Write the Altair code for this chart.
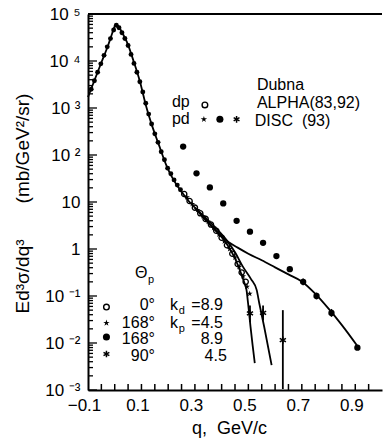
import altair as alt
import pandas as pd

# ---------------- curves (q in GeV/c, E d3sigma/dq3 in mb/GeV^2/sr) ----------------
main_q = [-0.100, -0.075, -0.050, -0.025, -0.010, 0.000, 0.007, 0.015, 0.030, 0.045,
          0.070, 0.095, 0.117, 0.140, 0.165, 0.194, 0.220, 0.250, 0.280, 0.300]
main_v = [1700, 4.0e3, 9.3e3, 2.14e4, 3.8e4, 5.5e4, 5.9e4, 5.4e4, 3.8e4, 2.57e4,
          1.02e4, 3.55e3, 1.12e3, 417, 166, 58.9, 29.5, 16.6, 10.0, 7.6]

curveB_q = [0.30, 0.34, 0.38, 0.42, 0.46, 0.50, 0.55, 0.60, 0.65, 0.70, 0.75, 0.80, 0.85, 0.91]
curveB_v = [7.6, 4.17, 2.40, 1.48, 1.07, 0.794, 0.575, 0.407, 0.288, 0.204, 0.112, 0.0537, 0.0240, 0.00832]

curveC_q = [0.30, 0.34, 0.38, 0.42, 0.45, 0.47, 0.485, 0.493, 0.499, 0.508, 0.516, 0.524]
curveC_v = [7.6, 4.17, 2.40, 1.26, 0.631, 0.331, 0.191, 0.135, 0.0692, 0.0224, 0.00891, 0.00372]

curveD_q = [0.30, 0.34, 0.38, 0.42, 0.45, 0.48, 0.51, 0.531, 0.541, 0.559, 0.587]
curveD_v = [7.6, 4.57, 2.75, 1.51, 0.851, 0.417, 0.229, 0.135, 0.0692, 0.0224, 0.00339]

# ---------------- data points ----------------
# dp, ALPHA: points along the peak
peak_q = [-0.088, -0.076, -0.064, -0.052, -0.040, -0.028, -0.016, -0.004, 0.006, 0.016,
          0.027, 0.038, 0.050, 0.061, 0.072, 0.083, 0.094, 0.105, 0.116, 0.127,
          0.138, 0.150, 0.162, 0.174, 0.186, 0.198, 0.210, 0.222, 0.234, 0.246]
peak_v = [2.5e3, 3.8e3, 5.75e3, 8.7e3, 1.32e4, 2.0e4, 3.0e4, 4.57e4, 5.75e4, 5.1e4,
          3.98e4, 3.02e4, 2.14e4, 1.38e4, 8.9e3, 5.75e3, 3.63e3, 2.19e3, 1.26e3, 741,
          457, 282, 186, 117, 79.4, 52.5, 39.8, 29.5, 22.9, 18.2]

# open circles: theta_p = 0 deg, k_d = 8.9
open_q = [0.26, 0.28, 0.30, 0.32, 0.34, 0.36, 0.38, 0.40, 0.42, 0.44, 0.46, 0.475, 0.49]
open_v = [14.8, 10.5, 7.59, 5.75, 4.37, 3.31, 2.45, 1.74, 1.20, 0.794, 0.479, 0.316, 0.200]

# stars: theta_p = 168 deg, k_p = 4.5
star_q = [0.27, 0.29, 0.31, 0.33, 0.35, 0.37, 0.39, 0.41, 0.43, 0.45, 0.465, 0.48, 0.495, 0.505]
star_v = [12.6, 9.12, 6.76, 5.01, 3.80, 2.82, 2.04, 1.45, 1.00, 0.661, 0.417, 0.263, 0.158, 0.112]

# filled dots: theta_p = 168 deg, k_d = 8.9
dot_q = [0.256, 0.306, 0.356, 0.406, 0.456, 0.506, 0.555, 0.605, 0.655, 0.705, 0.755, 0.811, 0.908]
dot_v = [151, 40.7, 20.4, 9.33, 3.98, 2.34, 1.35, 0.708, 0.372, 0.200, 0.100, 0.0437, 0.00794]
dot_lo = [None, None, None, None, None, None, None, None, None, 0.170, 0.085, 0.036, None]
dot_hi = [None, None, None, None, None, None, None, None, None, 0.235, 0.118, 0.053, None]

# asterisks: theta_p = 90 deg, k_p = 4.5
ast_q = [0.506, 0.555, 0.629]
ast_v = [0.0427, 0.0437, 0.0115]
ast_lo = [0.028, 0.030, 0.00105]
ast_hi = [0.063, 0.063, 0.050]

# ---------------- axis ticks ----------------
x_major = [-0.1, 0.1, 0.3, 0.5, 0.7, 0.9]
x_minor = [-0.05, 0.0, 0.05, 0.1, 0.15, 0.2, 0.25, 0.3, 0.35, 0.4, 0.45, 0.5,
           0.55, 0.6, 0.65, 0.7, 0.75, 0.8, 0.85, 0.9, 0.95]
y_major = [1e-3, 1e-2, 1e-1, 1, 10, 1e2, 1e3, 1e4, 1e5]
y_minor = [m * 10.0 ** e for e in range(-3, 5) for m in range(2, 10)]

X0 = -0.1
X1 = 1.0
Y0 = 1e-3
Y1 = 1e5

FONT = "Liberation Sans"

xscale = alt.Scale(domain=[X0, X1], nice=False, zero=False)
yscale = alt.Scale(type="log", domain=[Y0, Y1], nice=False)

e = "round(log(datum.value)/LN10)"
sup = {5: "10 \u2075", 4: "10 \u2074", 3: "10 \u00b3", 2: "10 \u00b2", 1: "10", 0: "1",
       -1: "10 \u207b\u00b9", -2: "10 \u207b\u00b2", -3: "10 \u207b\u00b3"}
ylabel_expr = ""
for k, s in sup.items():
    ylabel_expr += f"{e} == {k} ? '{s}' : "
ylabel_expr += "''"

xaxis = alt.Axis(values=x_major, labelExpr="datum.value < 0 ? '\u22120.1' : format(datum.value, '.1f')",
                 ticks=False, tickSize=0, grid=False, domainColor="black", domainWidth=2,
                 labelFont=FONT, labelFontSize=17, labelColor="black", labelPadding=7,
                 labelFlush=False, labelOverlap=False, labelOffset=-4, labelBaseline="top",
                 title="q,\u00a0\u00a0GeV/c", titleFont=FONT, titleFontSize=18,
                 titleFontWeight="normal", titleColor="black", titleX=141, titleY=43,
                 titleBaseline="alphabetic", titleAlign="center")
yaxis = alt.Axis(values=y_major, labelExpr=ylabel_expr, ticks=False, tickSize=0, grid=False,
                 domainColor="black", domainWidth=2, labelFont=FONT, labelFontSize=17,
                 labelColor="black", labelPadding=8, labelOverlap=False, labelFlush=False,
                 title="")


def X(f="q"):
    return alt.X(f"{f}:Q", scale=xscale, axis=xaxis)


def Y(f="v"):
    return alt.Y(f"{f}:Q", scale=yscale, axis=yaxis)


# ---------------- tables ----------------
curves = pd.concat([
    pd.DataFrame({"q": main_q, "v": main_v, "c": "A"}),
    pd.DataFrame({"q": curveB_q, "v": curveB_v, "c": "B"}),
    pd.DataFrame({"q": curveC_q, "v": curveC_v, "c": "C"}),
    pd.DataFrame({"q": curveD_q, "v": curveD_v, "c": "D"}),
])
peak_df = pd.DataFrame({"q": peak_q, "v": peak_v})
open_df = pd.DataFrame({"q": open_q, "v": open_v})
star_df = pd.DataFrame({"q": star_q, "v": star_v})
dot_df = pd.DataFrame({"q": dot_q, "v": dot_v, "lo": dot_lo, "hi": dot_hi})
ast_df = pd.DataFrame({"q": ast_q, "v": ast_v, "lo": ast_lo, "hi": ast_hi})

xt_df = pd.DataFrame({"q": x_minor, "v": Y0, "v2": Y0 * 10 ** (6 / 47)})
yt_df = pd.concat([
    pd.DataFrame({"q": X0, "q2": X0 + 9 / 267.5, "v": y_major}),
    pd.DataFrame({"q": X0, "q2": X0 + 5 / 267.5, "v": y_minor}),
])
frame_df = pd.DataFrame({"q": [X0], "q2": [X1], "v": [Y1]})

STAR = "M0,-1L0.2245,-0.309L0.951,-0.309L0.363,0.118L0.588,0.809L0,0.382L-0.588,0.809L-0.363,0.118L-0.951,-0.309L-0.2245,-0.309Z"
AST = "M0,-1L0,1M-0.87,-0.5L0.87,0.5M-0.87,0.5L0.87,-0.5"

# legend markers
leg_open = pd.DataFrame({"q": [0.3374, -0.031], "v": [1159, 0.0583]})
leg_star = pd.DataFrame({"q": [0.3336, -0.031], "v": [575, 0.02667]})
leg_dot = pd.DataFrame({"q": [0.3935, -0.031], "v": [575, 0.01343]})
leg_ast = pd.DataFrame({"q": [0.4559, -0.031], "v": [575, 0.00583]})

# annotations
txt_left = pd.DataFrame({
    "q": [0.532, 0.532, 0.524, 0.214, 0.214, 0.0757, 0.2065, 0.2065],
    "v": [2400, 1000, 420, 1050, 450, 0.2415, 0.0504, 0.02084],
    "t": ["Dubna", "ALPHA(83,92)", "DISC\u00a0\u00a0(93)", "dp", "pd", "\u0398", "k", "k"],
})
txt_sub = pd.DataFrame({
    "q": [0.1243, 0.240, 0.240],
    "v": [0.189, 0.0414, 0.01714],
    "t": ["p", "d", "p"],
})
txt_right = pd.DataFrame({
    "q": [0.1505, 0.1505, 0.1505, 0.1505, 0.4047, 0.4047, 0.4047, 0.4196],
    "v": [0.0504, 0.02084, 0.00953, 0.00414, 0.0504, 0.02084, 0.00953, 0.00414],
    "t": ["0\u00b0", "168\u00b0", "168\u00b0", "90\u00b0", "=8.9", "=4.5", "8.9", "4.5"],
})
# y-axis title, two pieces
ytitle = pd.DataFrame({
    "q": [-0.343, -0.343],
    "v": [137.5, 0.260],
    "t": ["(mb/GeV\u00b2/sr)", "Ed\u00b3\u03c3/dq\u00b3"],
})

# ---------------- layers ----------------
lines = alt.Chart(curves).mark_line(color="black", strokeWidth=1.8, interpolate="monotone").encode(
    x=X(), y=Y(), detail="c:N")

xticks = alt.Chart(xt_df).mark_rule(color="black", strokeWidth=1.5).encode(
    x=X(), y=Y(), y2=alt.Y2("v2:Q"))
yticks = alt.Chart(yt_df).mark_rule(color="black", strokeWidth=1.3).encode(
    x=X(), x2=alt.X2("q2:Q"), y=Y())
frame = alt.Chart(frame_df).mark_rule(color="black", strokeWidth=2).encode(
    x=X(), x2=alt.X2("q2:Q"), y=Y())

peak_pts = alt.Chart(peak_df).mark_point(shape="circle", filled=True, color="black", size=24, opacity=1).encode(
    x=X(), y=Y())
open_pts = alt.Chart(open_df).mark_point(shape="circle", filled=False, color="black", size=28,
                                          strokeWidth=1.3, opacity=1).encode(x=X(), y=Y())
star_pts = alt.Chart(star_df).mark_point(shape=STAR, filled=True, color="black", size=40, opacity=1).encode(
    x=X(), y=Y())
dot_err = alt.Chart(dot_df).mark_rule(color="black", strokeWidth=1.5).encode(
    x=X(), y=Y("lo"), y2=alt.Y2("hi:Q"))
dot_pts = alt.Chart(dot_df).mark_point(shape="circle", filled=True, color="black", size=40, opacity=1).encode(
    x=X(), y=Y())
ast_err = alt.Chart(ast_df).mark_rule(color="black", strokeWidth=1.8).encode(
    x=X(), y=Y("lo"), y2=alt.Y2("hi:Q"))
ast_pts = alt.Chart(ast_df).mark_point(shape=AST, filled=False, color="black", size=50,
                                        strokeWidth=1.5, opacity=1).encode(x=X(), y=Y())

l_open = alt.Chart(leg_open).mark_point(shape="circle", filled=False, color="black", size=32,
                                         strokeWidth=1.4, opacity=1).encode(x=X(), y=Y())
l_star = alt.Chart(leg_star).mark_point(shape=STAR, filled=True, color="black", size=45, opacity=1).encode(
    x=X(), y=Y())
l_dot = alt.Chart(leg_dot).mark_point(shape="circle", filled=True, color="black", size=50, opacity=1).encode(
    x=X(), y=Y())
l_ast = alt.Chart(leg_ast).mark_point(shape=AST, filled=False, color="black", size=45,
                                       strokeWidth=1.5, opacity=1).encode(x=X(), y=Y())

t_left = alt.Chart(txt_left).mark_text(align="left", baseline="alphabetic", font=FONT, fontSize=16,
                                        color="black").encode(x=X(), y=Y(), text="t:N")
t_sub = alt.Chart(txt_sub).mark_text(align="left", baseline="alphabetic", font=FONT, fontSize=11,
                                      color="black").encode(x=X(), y=Y(), text="t:N")
t_right = alt.Chart(txt_right).mark_text(align="right", baseline="alphabetic", font=FONT, fontSize=16,
                                          color="black").encode(x=X(), y=Y(), text="t:N")
t_ytitle = alt.Chart(ytitle).mark_text(align="center", baseline="middle", angle=270, font=FONT,
                                        fontSize=19, color="black").encode(x=X(), y=Y(), text="t:N")

chart = alt.layer(
    lines, xticks, yticks, frame, peak_pts, open_pts, star_pts, dot_err, dot_pts, ast_err, ast_pts,
    l_open, l_star, l_dot, l_ast, t_left, t_sub, t_right, t_ytitle
).properties(
    width=294, height=376,
    autosize=alt.AutoSizeParams(type="none"),
    padding={"left": 88, "top": 14, "right": 1, "bottom": 54},
    background="white",
).configure_view(stroke=None)

chart.save("out.html", embed_options={"renderer": "svg", "actions": False})
